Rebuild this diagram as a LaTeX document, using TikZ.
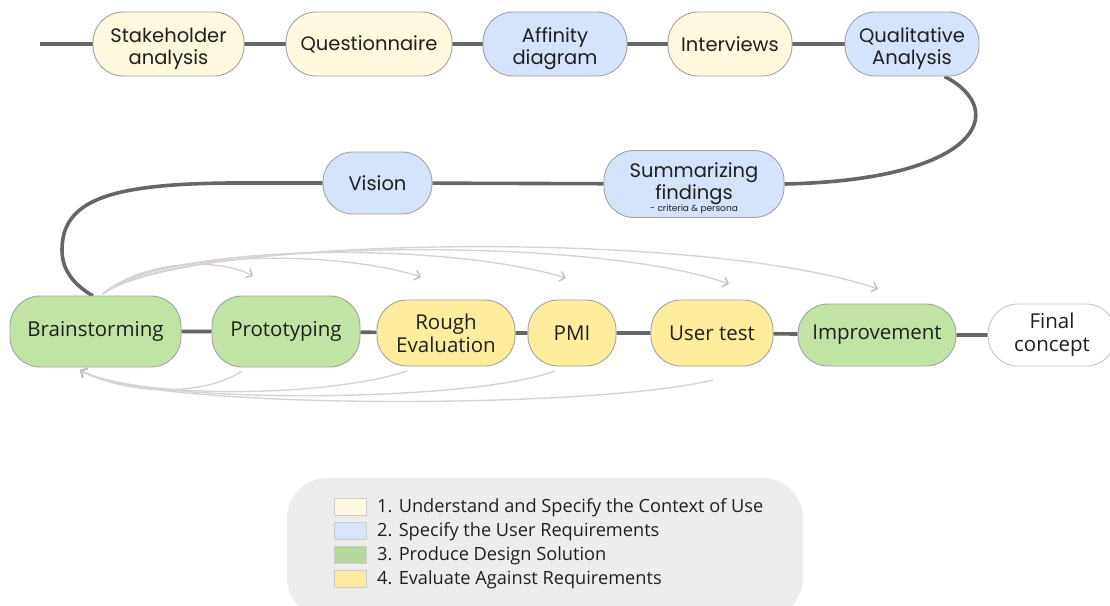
\documentclass[tikz,border=0pt]{standalone}
\usepackage{fontspec}
\setmainfont{Open Sans}
\newfontfamily\geo{Poppins}
\usetikzlibrary{arrows.meta,backgrounds}

\definecolor{cream}{HTML}{FEF8DF}
\definecolor{skyblue}{HTML}{D5E3FA}
\definecolor{leaf}{HTML}{C1E3A4}
\definecolor{butter}{HTML}{FFED9E}
\definecolor{edge}{HTML}{A3A3A3}
\definecolor{spine}{HTML}{666666}
\definecolor{arcline}{HTML}{D9D2D2}
\definecolor{arctip}{HTML}{B5C1CA}
\definecolor{legendbg}{HTML}{EDEDED}
\definecolor{ink}{HTML}{1F1F1F}
\definecolor{swcream}{HTML}{FFF9E0}
\definecolor{swblue}{HTML}{D8E4F8}
\definecolor{swgreen}{HTML}{B5D89B}
\definecolor{swyellow}{HTML}{FFEBA1}

\begin{document}
\begin{tikzpicture}[x=1pt,y=-1pt,
  phase/.style={draw=edge, line width=0.9pt, rounded corners=30pt, align=center,
    inner sep=0pt, text=ink},
  toprow/.style={phase, font=\geo\fontsize{19.5}{22}\selectfont},
  twoline/.style={text height=46pt},
  lowrow/.style={phase, font=\fontsize{20.5}{23}\selectfont},
  spineline/.style={draw=spine, line width=3.6pt},
  loop/.style={draw=arcline, line width=1.4pt,
    -{Straight Barb[length=5pt,width=10pt,color=arctip,line width=1.4pt]}},
  swatch/.style={draw=black!20, line width=0.8pt, minimum width=32pt, minimum height=17pt, inner sep=0pt},
  legendtext/.style={anchor=west, inner sep=0pt, text=ink, font=\fontsize{18.2}{20}\selectfont}
]
\useasboundingbox (0,0) rectangle (1110,605);

% upper row
\node[toprow, twoline, fill=cream, minimum width=151pt, minimum height=64pt] (stake) at (168.5,44) {Stakeholder\\analysis};
\node[toprow, fill=cream, minimum width=166pt, minimum height=64pt] (quest) at (369,44) {Questionnaire};
\node[toprow, twoline, fill=skyblue, minimum width=144pt, minimum height=64pt] (affin) at (555,44) {Affinity\\diagram};
\node[toprow, fill=cream, minimum width=124pt, minimum height=64pt] (interv) at (730,44) {Interviews};
\node[toprow, twoline, fill=skyblue, minimum width=134pt, minimum height=64pt] (qual) at (912,44) {Qualitative\\Analysis};

% middle row
\node[toprow, text height=57pt, fill=skyblue, minimum width=180pt, minimum height=67pt] (summ) at (694,184)
  {Summarizing\\findings\\[-10pt]{\fontsize{9}{10}\selectfont - criteria \& persona}};
\node[toprow, fill=skyblue, minimum width=109pt, minimum height=62pt] (vision) at (377.5,183) {Vision};

% lower row
\node[lowrow, fill=leaf, minimum width=171pt, minimum height=71pt] (brain) at (95.5,331.5) {Brainstorming};
\node[lowrow, fill=leaf, minimum width=148pt, minimum height=71pt] (proto) at (286,331.5) {Prototyping};
\node[lowrow, fill=butter, minimum width=138pt, minimum height=66pt] (rough) at (446,333) {Rough\\Evaluation};
\node[lowrow, fill=butter, minimum width=88pt, minimum height=66pt] (pmi) at (572,333) {PMI};
\node[lowrow, fill=butter, minimum width=122pt, minimum height=66pt] (user) at (712,333) {User test};
\node[lowrow, fill=leaf, minimum width=158pt, minimum height=62pt] (improv) at (877,335) {Improvement};
\node[lowrow, draw=black!22, fill=white, minimum width=128pt, minimum height=62pt] (final) at (1052,335) {Final\\concept};

% process spine
\coordinate (start) at (40,44);
\coordinate (bend) at (230,183);
\begin{scope}[on background layer]
  \draw[spineline] (start) -- (stake) -- (quest) -- (affin) -- (interv) -- (qual);
  \draw[spineline] ([xshift=-35pt]qual.south east)
    .. controls (1010,110) and (980,180) .. (summ.east);
  \draw[spineline] (summ) -- (vision) -- (bend)
    .. controls (110,184) and (62,200) .. (62,250)
    .. controls (62,275) and (80,288) .. (93,296);
  \draw[spineline] (brain) -- (proto) -- (rough) -- (pmi) -- (user) -- (improv) -- (final);
\end{scope}

% iteration loops forward
\coordinate (fwd) at (103,294);
\coordinate (t1) at (253,276);
\coordinate (t2) at (421,277);
\coordinate (t3) at (566,278);
\coordinate (t4) at (729,284);
\coordinate (t5) at (878,289);
\draw[loop] (fwd) .. controls (140,262) and (215,256) .. (t1);
\draw[loop] (fwd) .. controls (150,252) and (330,248) .. (t2);
\draw[loop] (fwd) .. controls (160,244) and (440,240) .. (t3);
\draw[loop] (fwd) .. controls (170,240) and (590,234) .. (t4);
\draw[loop] (fwd) .. controls (180,236) and (700,228) .. (t5);

% iteration loops back
\coordinate (back) at (80,370);
\coordinate (s1) at (242,371);
\coordinate (s2) at (407,371);
\coordinate (s3) at (555,371);
\coordinate (s4) at (713,380);
\draw[loop] (s1) .. controls (205,396) and (130,396) .. (back);
\draw[loop] (s2) .. controls (330,397) and (140,400) .. (back);
\draw[loop] (s3) .. controls (470,403) and (140,405) .. (back);
\draw[loop] (s4) .. controls (590,410) and (140,410) .. (back);

% legend
\node[fill=legendbg, rounded corners=40pt, minimum width=516pt, minimum height=140pt, inner sep=0pt] (legend) at (545,548) {};
\node[swatch, fill=swcream] (sw1) at (350,507) {};
\node[swatch, fill=swblue] (sw2) at (350,531) {};
\node[swatch, fill=swgreen] (sw3) at (350,555) {};
\node[swatch, fill=swyellow] (sw4) at (350,579) {};
\node[legendtext] (lt1) at (377,508) {1. Understand and Specify the Context of Use};
\node[legendtext] (lt2) at (377,532) {2. Specify the User Requirements};
\node[legendtext] (lt3) at (377,556) {3. Produce Design Solution};
\node[legendtext] (lt4) at (377,580) {4. Evaluate Against Requirements};
\end{tikzpicture}
\end{document}
